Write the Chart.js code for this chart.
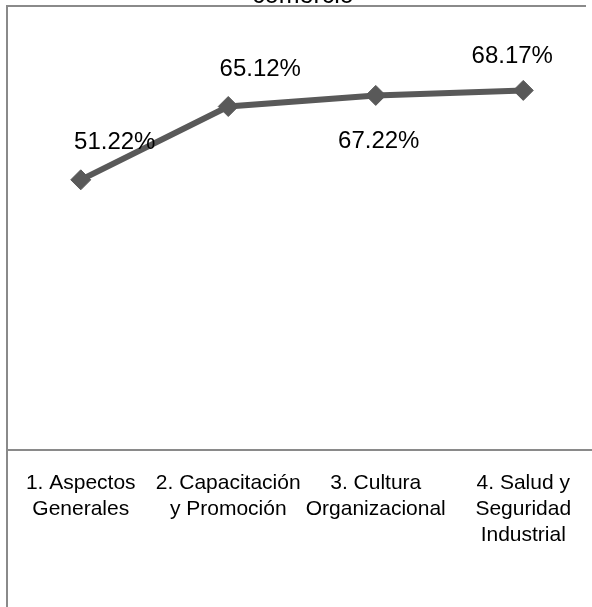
<!DOCTYPE html>
<html>
<head>
<meta charset="utf-8">
<script src="https://cdn.jsdelivr.net/npm/chart.js@4"></script>
<style>
  html, body { margin: 0; padding: 0; background: #fff; overflow: hidden; }
  #wrap { position: relative; width: 600px; height: 607px; }
</style>
</head>
<body>
<div id="wrap"><canvas id="lineChart" width="600" height="607"></canvas></div>
<script>
// Chart data
const titleText = 'comercio';
const categories = [
    ['1. Aspectos', 'Generales'],
    ['2. Capacitación', 'y Promoción'],
    ['3. Cultura', 'Organizacional'],
    ['4. Salud y', 'Seguridad', 'Industrial']
];
const percentages = [51.22, 65.12, 67.22, 68.17];
const yMin = 0;
const yMax = 80;

// Where each value label sits relative to its point
const labelOffsets = [[34, -37], [32, -37], [3, 46], [-11, -34]];

const FONT = "'Liberation Sans', Arial, sans-serif";
const LINE_GRAY = '#595959';
const FRAME_GRAY = '#8a8a8a';

// Frame, clipped title and value labels
const decorations = {
    id: 'decorations',
    afterDraw(chart) {
        const ctx = chart.ctx;
        ctx.save();

        ctx.strokeStyle = FRAME_GRAY;
        ctx.lineWidth = 2;
        ctx.beginPath();
        ctx.moveTo(7, chart.height);
        ctx.lineTo(7, 6);
        ctx.lineTo(586, 6);
        ctx.stroke();

        ctx.fillStyle = '#000';
        ctx.font = '25px ' + FONT;
        ctx.textAlign = 'center';
        ctx.textBaseline = 'alphabetic';
        ctx.fillText(titleText, 303, 3);

        ctx.font = '24px ' + FONT;
        ctx.textBaseline = 'middle';
        const meta = chart.getDatasetMeta(0);
        meta.data.forEach((pt, i) => {
            const off = labelOffsets[i];
            ctx.fillText(percentages[i].toFixed(2) + '%', pt.x + off[0], pt.y + off[1]);
        });
        ctx.restore();
    }
};

const chartCtx = document.getElementById('lineChart').getContext('2d');
const lineChart = new Chart(chartCtx, {
    type: 'line',
    data: {
        labels: categories,
        datasets: [{
            data: percentages,
            borderColor: LINE_GRAY,
            backgroundColor: LINE_GRAY,
            borderWidth: 6,
            pointStyle: 'rectRot',
            pointRadius: 10,
            pointBackgroundColor: LINE_GRAY,
            pointBorderColor: LINE_GRAY,
            pointBorderWidth: 1,
            tension: 0
        }]
    },
    options: {
        responsive: false,
        animation: false,
        layout: {
            autoPadding: false,
            padding: { left: 7, right: 3, top: 28, bottom: 0 }
        },
        plugins: {
            legend: { display: false },
            tooltip: { enabled: false }
        },
        scales: {
            x: {
                offset: true,
                grid: { display: false },
                border: { display: true, color: FRAME_GRAY, width: 2 },
                ticks: {
                    color: '#000',
                    padding: 12,
                    maxRotation: 0,
                    autoSkip: false,
                    font: { family: FONT, size: 21, lineHeight: 1.25 }
                },
                afterFit(scale) {
                    scale.height = 157;
                }
            },
            y: {
                display: false,
                min: yMin,
                max: yMax
            }
        }
    },
    plugins: [decorations]
});
</script>
</body>
</html>
